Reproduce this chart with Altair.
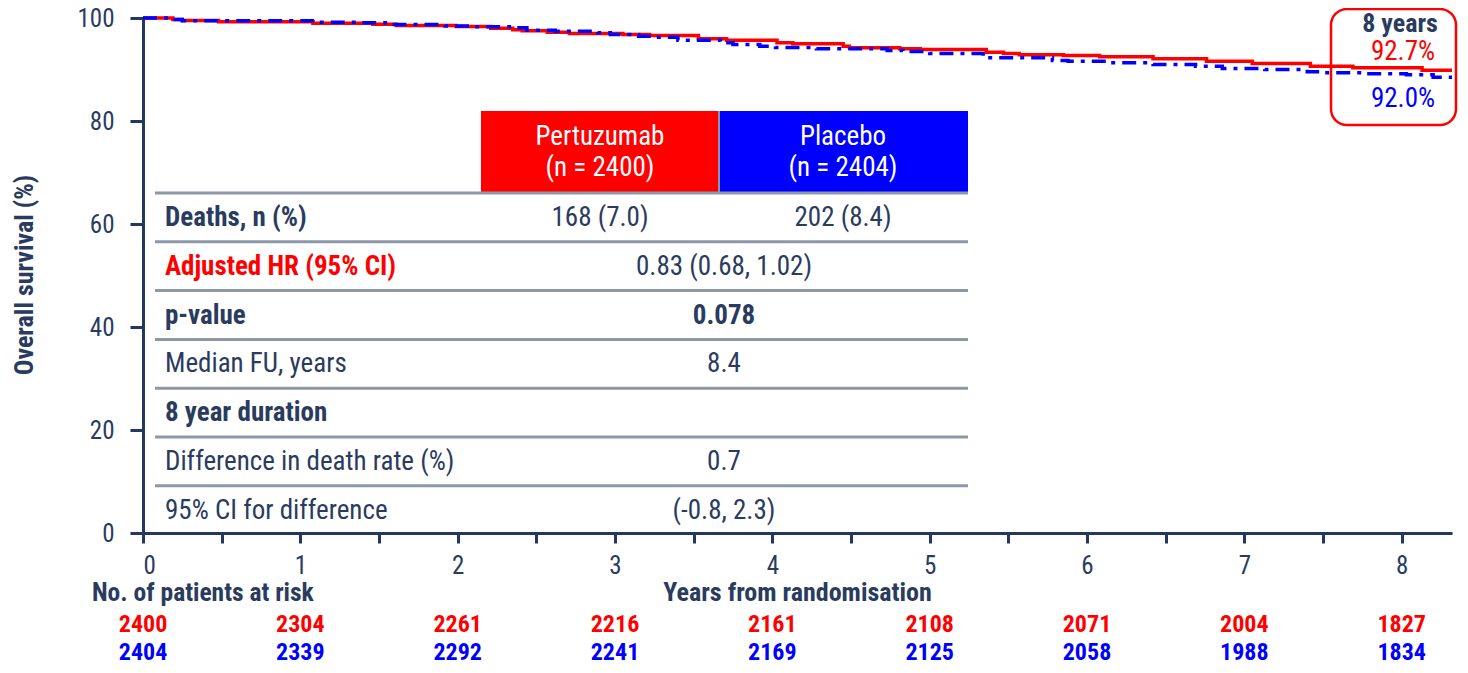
import altair as alt
import pandas as pd

FONT = "'Roboto Condensed', 'Open Sans Condensed', 'DejaVu Sans Condensed', sans-serif"
NAVY = "#23375f"
TEXT = "#2a3b60"
RED = "#ff0000"
BLUE = "#0000ff"
GRID = "#8c97a8"

# ---- Kaplan-Meier curves (years, overall survival %) ----
red_time = [0, 0.19, 0.25, 0.48, 1.08, 1.46, 1.61, 1.99, 2.21, 2.35, 2.41, 2.57, 2.71,
            3.05, 3.22, 3.53, 3.71, 4.03, 4.13, 4.45, 4.49, 4.81, 4.94, 5.36, 5.47, 5.57,
            5.85, 6.08, 6.42, 6.76, 7.05, 7.42, 7.69, 8.13, 8.32]
red_surv = [100, 99.71, 99.51, 99.26, 98.99, 98.80, 98.54, 98.35, 98.02, 97.71, 97.51, 97.24, 96.99,
            96.79, 96.60, 95.96, 95.69, 95.18, 94.99, 94.52, 94.21, 94.02, 93.88, 93.36, 93.10, 92.87,
            92.72, 92.46, 92.07, 91.61, 91.16, 90.64, 90.33, 89.86, 89.86]

blue_time = [0, 0.17, 0.25, 1.09, 1.36, 1.58, 1.92, 2.09, 2.36, 2.44, 2.62, 2.89, 2.97,
             3.15, 3.23, 3.40, 3.67, 3.75, 3.92, 4.02, 4.28, 4.73, 4.83, 5.00, 5.34, 5.78,
             5.88, 6.15, 6.42, 6.69, 6.86, 7.13, 7.40, 7.48, 7.75, 8.03, 8.20, 8.32]
blue_surv = [100, 99.71, 99.46, 99.18, 99.07, 98.74, 98.45, 98.29, 98.10, 97.63, 97.44, 97.13, 96.79,
             96.46, 96.27, 95.69, 95.18, 94.85, 94.52, 94.27, 94.02, 93.69, 93.49, 93.10, 92.27, 91.74,
             91.61, 91.30, 90.97, 90.64, 90.19, 90.00, 89.55, 89.36, 89.16, 88.97, 88.50, 88.50]

# ---- numbers at risk ----
risk_years = [0, 1, 2, 3, 4, 5, 6, 7, 8]
risk_pertuzumab = [2400, 2304, 2261, 2216, 2161, 2108, 2071, 2004, 1827]
risk_placebo = [2404, 2339, 2292, 2241, 2169, 2125, 2058, 1988, 1834]

# ---- summary table ----
row_labels = ["Deaths, n (%)", "Adjusted HR (95% CI)", "p-value", "Median FU, years",
              "8 year duration", "Difference in death rate (%)", "95% CI for difference"]
row_label_bold = [True, True, True, False, True, False, False]
row_label_red = [False, True, False, False, False, False, False]
pertuzumab_vals = ["168 (7.0)", "", "", "", "", "", ""]
placebo_vals = ["202 (8.4)", "", "", "", "", "", ""]
combined_vals = ["", "0.83 (0.68, 1.02)", "0.078", "8.4", "", "0.7", "(-0.8, 2.3)"]
combined_bold = [False, False, True, False, False, False, False]
header_arms = ["Pertuzumab", "Placebo"]
header_n = ["(n = 2400)", "(n = 2404)"]
box_title = "8 years"
box_pertuzumab = "92.7%"
box_placebo = "92.0%"

W, H = 1309, 515
XMAX = 8.32
x_scale = alt.Scale(domain=[0, XMAX], nice=False, zero=False)
y_scale = alt.Scale(domain=[0, 100], nice=False)

one = pd.DataFrame({"a": [0]})

df_red = pd.DataFrame({"t": red_time, "s": red_surv})
df_blue = pd.DataFrame({"t": blue_time, "s": blue_surv})

x_axis = alt.Axis(values=[i * 0.5 for i in range(17)],
                  labelExpr="datum.value % 1 == 0 ? format(datum.value, 'd') : ''",
                  title=None, grid=False, domainColor=NAVY, domainWidth=3,
                  tickColor=NAVY, tickWidth=3, tickSize=10, labelFont=FONT,
                  labelFontSize=25, labelColor=TEXT, labelPadding=10)
y_axis = alt.Axis(values=[0, 20, 40, 60, 80, 100], title=None, grid=False,
                  domainColor=NAVY, domainWidth=3, tickColor=NAVY, tickWidth=3,
                  tickSize=13, labelFont=FONT, labelFontSize=25, labelColor=TEXT,
                  labelPadding=16)

red_line = alt.Chart(df_red).mark_line(interpolate="step-after", color=RED, strokeWidth=3.5).encode(
    x=alt.X("t:Q", scale=x_scale, axis=x_axis),
    y=alt.Y("s:Q", scale=y_scale, axis=y_axis),
)
blue_line = alt.Chart(df_blue).mark_line(interpolate="step-after", color=BLUE, strokeWidth=3.5,
                                         strokeDash=[14, 7, 4, 7]).encode(
    x=alt.X("t:Q", scale=x_scale, axis=x_axis),
    y=alt.Y("s:Q", scale=y_scale, axis=y_axis),
)

# table layout (pixels relative to plot origin)
ROW0, ROWSTEP = 200, 48.8
rows = pd.DataFrame({"label": row_labels, "bold": row_label_bold, "red": row_label_red,
                     "pert": pertuzumab_vals, "plac": placebo_vals, "both": combined_vals,
                     "both_bold": combined_bold})
rows["py"] = [ROW0 + ROWSTEP * i for i in range(len(rows))]
rules = pd.DataFrame({"py": [ROW0 - 25 + ROWSTEP * i for i in range(len(rows))]})

def txt(df, field, x, color, bold=False, align="left", size=27):
    return alt.Chart(df).mark_text(font=FONT, fontSize=size, fontWeight="bold" if bold else "normal",
                                   color=color, align=align, baseline="middle").encode(
        x=alt.value(x), y=alt.Y("py:Q", scale=None), text=f"{field}:N")

lab_bold = rows[rows["bold"] & ~rows["red"]]
lab_red = rows[rows["red"]]
lab_reg = rows[~rows["bold"]]
vals = rows[rows["pert"] != ""]
comb_reg = rows[(rows["both"] != "") & ~rows["both_bold"]]
comb_bold = rows[(rows["both"] != "") & rows["both_bold"]]

table_layers = [
    alt.Chart(one).mark_rect(color=RED).encode(x=alt.value(338), x2=alt.value(575),
                                                y=alt.value(93), y2=alt.value(174)),
    alt.Chart(one).mark_rect(color=BLUE).encode(x=alt.value(577), x2=alt.value(825),
                                                 y=alt.value(93), y2=alt.value(174)),
    alt.Chart(one).mark_rule(color=GRID, strokeWidth=2).encode(x=alt.value(576), y=alt.value(93),
                                                                y2=alt.value(174)),
    alt.Chart(rules).mark_rule(color=GRID, strokeWidth=3).encode(
        x=alt.value(12), x2=alt.value(825), y=alt.Y("py:Q", scale=None)),
    txt(lab_bold, "label", 22, TEXT, bold=True),
    txt(lab_red, "label", 22, RED, bold=True),
    txt(lab_reg, "label", 22, TEXT),
    txt(vals, "pert", 457, TEXT, align="center"),
    txt(vals, "plac", 700, TEXT, align="center"),
    txt(comb_reg, "both", 581, TEXT, align="center"),
    txt(comb_bold, "both", 581, TEXT, bold=True, align="center"),
]

hdr = pd.DataFrame({"arm": header_arms, "n": header_n, "px": [457, 700]})
for field, py in [("arm", 119), ("n", 150)]:
    table_layers.append(
        alt.Chart(hdr).mark_text(font=FONT, fontSize=27, color="white", align="center",
                                 baseline="middle").encode(
            x=alt.X("px:Q", scale=None), y=alt.value(py), text=f"{field}:N"))

# risk table
risk_red = pd.DataFrame({"year": risk_years, "n": risk_pertuzumab})
risk_blue = pd.DataFrame({"year": risk_years, "n": risk_placebo})
risk_layers = [
    alt.Chart(risk_red).mark_text(font=FONT, fontSize=24, fontWeight="bold", color=RED,
                                  baseline="alphabetic").encode(
        x=alt.X("year:Q", scale=x_scale, axis=x_axis), y=alt.value(614), text="n:Q"),
    alt.Chart(risk_blue).mark_text(font=FONT, fontSize=24, fontWeight="bold", color=BLUE,
                                   baseline="alphabetic").encode(
        x=alt.X("year:Q", scale=x_scale, axis=x_axis), y=alt.value(642), text="n:Q"),
    alt.Chart(one).mark_text(text="No. of patients at risk", font=FONT, fontSize=25.5,
                             fontWeight="bold", color=TEXT, align="left",
                             baseline="alphabetic").encode(x=alt.value(-51), y=alt.value(583)),
    alt.Chart(one).mark_text(text="Years from randomisation", font=FONT, fontSize=26,
                             fontWeight="bold", color=TEXT, align="center",
                             baseline="alphabetic").encode(x=alt.value(W / 2), y=alt.value(583)),
    alt.Chart(one).mark_text(text="Overall survival (%)", font=FONT, fontSize=26,
                             fontWeight="bold", color=TEXT, align="center", angle=270,
                             baseline="middle").encode(x=alt.value(-118), y=alt.value(257)),
]

box_layers = [
    alt.Chart(one).mark_rect(fillOpacity=0, stroke=RED, strokeWidth=2.5, cornerRadius=16).encode(
        x=alt.value(1188), x2=alt.value(1313), y=alt.value(-9), y2=alt.value(107)),
    alt.Chart(one).mark_text(text=box_title, font=FONT, fontSize=26, fontWeight="bold", color=TEXT,
                             align="center", baseline="middle").encode(x=alt.value(1257), y=alt.value(6)),
    alt.Chart(one).mark_text(text=box_pertuzumab, font=FONT, fontSize=27, color=RED,
                             align="center", baseline="middle").encode(x=alt.value(1260), y=alt.value(34)),
    alt.Chart(one).mark_text(text=box_placebo, font=FONT, fontSize=27, color=BLUE,
                             align="center", baseline="middle").encode(x=alt.value(1260), y=alt.value(81)),
]

chart = alt.layer(red_line, blue_line, *table_layers, *risk_layers, *box_layers).properties(
    width=W, height=H,
    autosize=alt.AutoSizeParams(type="none"),
    padding={"left": 135, "top": 10, "right": 8, "bottom": 132},
).configure_view(stroke=None)

chart.save("out.html", embed_options={"renderer": "svg", "actions": False})
